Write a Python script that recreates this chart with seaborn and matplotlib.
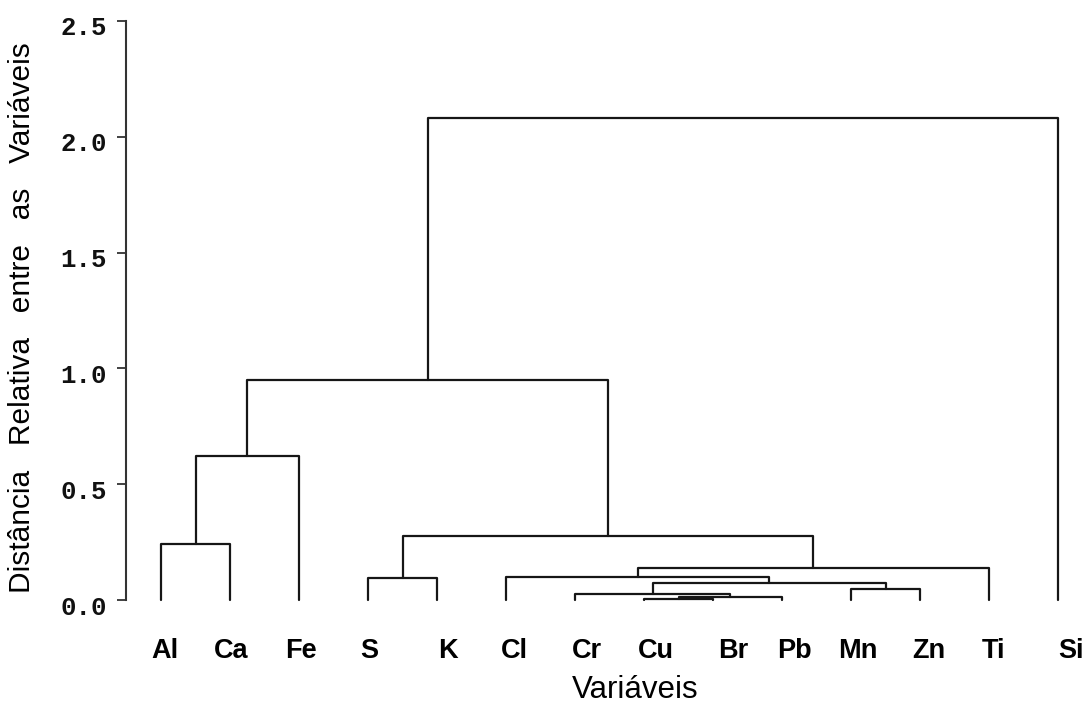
import matplotlib
matplotlib.use("Agg")
import matplotlib.pyplot as plt
import matplotlib.transforms as mtransforms
import numpy as np
import pandas as pd
import seaborn as sns

# Leaves of the dendrogram, left to right
leaves = ["Al", "Ca", "Fe", "S", "K", "Cl", "Cr", "Cu", "Br", "Pb", "Mn", "Zn", "Ti", "Si"]

# Agglomeration steps (linkage style): ids < 14 are leaves, 14+ are earlier merges
merge_left = [0, 14, 3, 10, 7, 18, 6, 20, 5, 22, 16, 15, 25]
merge_right = [1, 2, 4, 11, 8, 9, 19, 17, 21, 12, 23, 24, 13]
merge_height = [0.244, 0.622, 0.095, 0.049, 0.004, 0.016, 0.026, 0.076, 0.102, 0.138, 0.279, 0.951, 2.08]

y_ticks = [0.0, 0.5, 1.0, 1.5, 2.0, 2.5]
y_label = "Distância   Relativa   entre   as   Variáveis"
x_label = "Variáveis"

# Horizontal nudges (pixels) applied to each leaf label
label_nudge_px = [4, 1, 2, 1, 11, 8, 12, 12, 20, 12, 7, 9, 4, 13]

sns.set_style("white")
plt.rcParams["font.family"] = ["Liberation Sans", "DejaVu Sans"]
plt.rcParams["text.color"] = "black"

# Node coordinates: leaves at their index, merges at the midpoint of children
n = len(leaves)
node_x = {i: float(i) for i in range(n)}
node_h = {i: 0.0 for i in range(n)}
rows = []
for k, (a, b, h) in enumerate(zip(merge_left, merge_right, merge_height)):
    nid = n + k
    xa, xb = node_x[a], node_x[b]
    pts = [(xa, node_h[a]), (xa, h), (xb, h), (xb, node_h[b])]
    for order, (px, py) in enumerate(pts):
        rows.append({"seg": k, "order": order, "x": px, "y": py})
    node_x[nid] = (xa + xb) / 2.0
    node_h[nid] = h
segments = pd.DataFrame(rows)

W, H = 1088, 706
fig = plt.figure(figsize=(W / 100, H / 100), dpi=100)
ax_left, ax_right, ax_top, ax_bottom = 126, 1085, 20.7, 600.3
ax = fig.add_axes([ax_left / W, (H - ax_bottom) / H,
                   (ax_right - ax_left) / W, (ax_bottom - ax_top) / H])

sns.lineplot(data=segments, x="x", y="y", units="seg", estimator=None,
             sort=False, color="#161616", linewidth=1.6, legend=False,
             ax=ax, clip_on=False)

leaf_px = 69.0
ax.set_xlim(-(161 - ax_left) / leaf_px, (ax_right - 161) / leaf_px)
ax.set_ylim(0, 2.5)

ax.set_yticks(y_ticks)
ax.set_yticklabels([f"{v:.1f}" for v in y_ticks], family="Liberation Mono",
                   fontweight="bold", fontsize=18.5, color="#111111")
ax.tick_params(axis="y", direction="out", length=6.5, width=1.3,
               color="#333333", pad=7, left=True)
for lab in ax.get_yticklabels():
    lab.set_transform(lab.get_transform() +
                      mtransforms.ScaledTranslation(0, -0.05, fig.dpi_scale_trans))

ax.set_xticks(range(n))
ax.set_xticklabels(leaves, fontweight="bold", fontsize=19.5, color="black")
ax.tick_params(axis="x", length=0, pad=27.5)
for lab, dx in zip(ax.get_xticklabels(), label_nudge_px):
    lab.set_transform(lab.get_transform() +
                      mtransforms.ScaledTranslation(dx / 100, 0, fig.dpi_scale_trans))

ax.set_xlabel("")
ax.set_ylabel("")
sns.despine(ax=ax, bottom=True)
ax.spines["left"].set_color("#333333")
ax.spines["left"].set_linewidth(1.5)
ax.grid(False)

fig.text(635 / W, 1 / H, x_label, ha="center", va="bottom", fontsize=22.5,
         color="black")
fig.text(22 / W, 1 - 317.5 / H, y_label, ha="center", va="center",
         rotation=90, fontsize=21.5, color="black")

fig.savefig("out.png", dpi=100)
